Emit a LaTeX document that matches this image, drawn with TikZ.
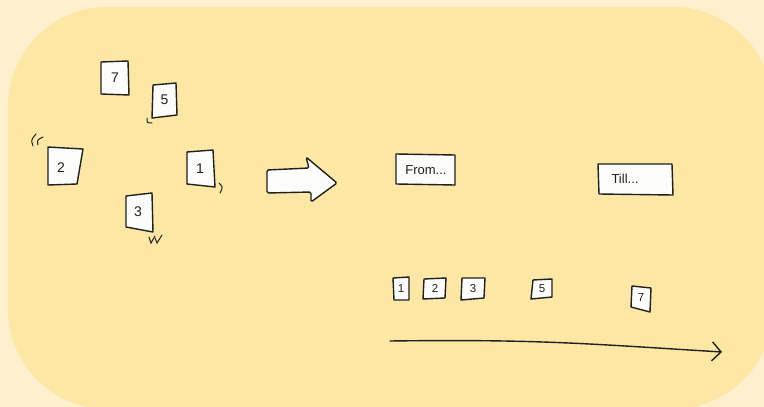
\documentclass[tikz,border=0pt]{standalone}
\usepackage{fontspec}
\setmainfont{Liberation Sans}
\usetikzlibrary{arrows.meta}
\definecolor{outerbg}{RGB}{254,240,205}
\definecolor{innerbg}{RGB}{252,231,164}
\definecolor{ink}{RGB}{32,32,32}
\definecolor{paper}{RGB}{252,252,250}
\tikzset{
  cardline/.style={fill=paper, draw=ink, line width=1.4pt, line join=round},
  num/.style={font=\fontsize{14}{14}\selectfont, text=ink, inner sep=0pt},
  smallnum/.style={font=\fontsize{11.5}{12}\selectfont, text=ink, inner sep=0pt},
  boxtext/.style={font=\fontsize{13}{13}\selectfont, text=ink, inner sep=0pt},
  tick/.style={draw=ink, line width=1pt, line cap=round},
  timeline/.style={draw=ink, line width=1.4pt, line cap=round,
    -{Straight Barb[length=9pt,width=19pt,line width=1.4pt]}}
}
% corners TL TR BR BL, name, label position, style, text
\newcommand{\drawcard}[8]{%
  \filldraw[cardline] #1 -- #2 -- #3 -- #4 -- cycle;
  \node[#7] (#5) at #6 {#8};
}
\begin{document}
\begin{tikzpicture}[x=1pt,y=-1pt]
  \fill[outerbg] (0,0) rectangle (764,407);
  \useasboundingbox (0,0) rectangle (764,407);
  \fill[innerbg, rounded corners=100pt] (8,7) rectangle (773,409);

  % scattered cards
  \drawcard{(101,62)}{(128,61)}{(129,95)}{(101,94)}{l7}{(115,78)}{num}{7}
  \drawcard{(153,85)}{(176,83)}{(177,115)}{(152,118)}{l5}{(164.5,100)}{num}{5}
  \drawcard{(48,147)}{(83,149)}{(77,184)}{(48,185)}{l2}{(61,168)}{num}{2}
  \drawcard{(187,152)}{(213,150)}{(215,187)}{(187,184)}{l1}{(200,169)}{num}{1}
  \drawcard{(126,196)}{(152,193)}{(153,232)}{(126,227)}{l3}{(138,212)}{num}{3}

  % motion ticks
  \draw[tick] (33,146) .. controls (31,140) .. (36,134);
  \draw[tick] (38,145) .. controls (37,140) .. (43,137);
  \draw[tick] (147,118) .. controls (147,123) .. (152,123);
  \draw[tick] (219,183) .. controls (223,187) .. (220,193);
  \draw[tick] (149,237) -- (151,243) -- (155,236);
  \draw[tick] (155,238) -- (157,243) -- (162,235);

  % big arrow
  \filldraw[cardline, rounded corners=1.5pt] (267,170) -- (309,168) -- (306,157)
    -- (337,183) -- (311,202) -- (311,192) -- (267,193) -- cycle;

  % From / Till boxes
  \drawcard{(396,154)}{(455,155)}{(455,185)}{(396,184)}{from}{(426,170)}{boxtext}{From...}
  \drawcard{(598,164)}{(672,164)}{(673,195)}{(599,194)}{till}{(625,179)}{boxtext}{Till...}

  % ordered cards
  \drawcard{(393,278)}{(409,277)}{(409,300)}{(394,300)}{r1}{(401,289)}{smallnum}{1}
  \drawcard{(424,279)}{(446,278)}{(445,298)}{(423,299)}{r2}{(435,288.5)}{smallnum}{2}
  \drawcard{(462,278)}{(485,278)}{(484,298)}{(461,300)}{r3}{(473,289)}{smallnum}{3}
  \drawcard{(533,280)}{(552,279)}{(552,297)}{(531,299)}{r5}{(542,289)}{smallnum}{5}
  \drawcard{(632,286)}{(651,288)}{(650,312)}{(631,307)}{r7}{(641,298)}{smallnum}{7}

  % timeline
  \coordinate (tstart) at (390,341);
  \coordinate (tend) at (722,352);
  \draw[timeline] (tstart) .. controls (540,339) and (590,344) .. (tend);
\end{tikzpicture}
\end{document}
